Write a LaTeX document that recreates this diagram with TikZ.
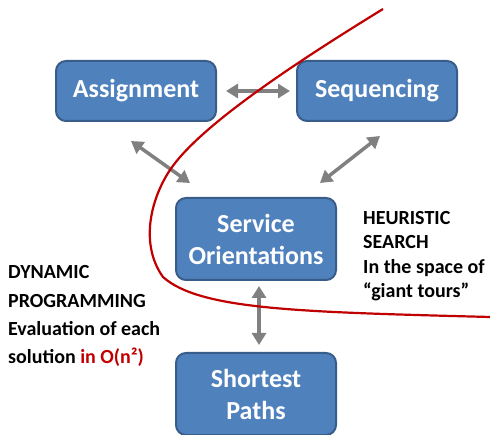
\documentclass[tikz,border=0pt]{standalone}
\usepackage{fontspec}
\setmainfont{Carlito}
\usetikzlibrary{arrows.meta}
\definecolor{boxblue}{HTML}{4F81BD}
\definecolor{boxedge}{HTML}{385D8A}
\definecolor{arrowgray}{HTML}{808080}
\definecolor{darkred}{HTML}{C00000}
\begin{document}
\begin{tikzpicture}[x=1pt,y=-1pt,
  blockbox/.style={draw=boxedge, line width=2pt, fill=boxblue, rounded corners=10pt,
    text=white, font=\fontsize{26}{32}\selectfont\bfseries, align=center,
    minimum width=160pt, inner sep=0pt},
  link/.style={draw=arrowgray, line width=3.5pt,
    {Triangle[width=14pt,length=12pt]}-{Triangle[width=14pt,length=12pt]}},
  notes/.style={font=\fontsize{20}{28.3}\selectfont\bfseries, align=left, anchor=north west, inner sep=0pt},
  boundary/.style={draw=darkred, line width=2.2pt}]
\useasboundingbox (0,0) rectangle (490,435);
% blocks
\node[blockbox, minimum height=60pt] (assign) at (136,91) {Assignment};
\node[blockbox, minimum height=60pt] (seq) at (377,91) {Sequencing};
\node[blockbox, minimum height=82pt] (serv) at (256,239) {Service\\Orientations};
\node[blockbox, minimum height=82pt] (short) at (256,394) {Shortest\\Paths};
% arrow ends
\coordinate (a1) at (226,91);
\coordinate (a2) at (290,91);
\coordinate (b1) at (131,141);
\coordinate (b2) at (190,183);
\coordinate (c1) at (380,136);
\coordinate (c2) at (320,183);
\coordinate (d1) at (259,286);
\coordinate (d2) at (259,345);
\draw[link] (a1) -- (a2);
\draw[link] (b1) -- (b2);
\draw[link] (c1) -- (c2);
\draw[link] (d1) -- (d2);
% boundary between the two methods
\draw[boundary] (383,9) .. controls (300,60) and (200,125) .. (170,170)
  .. controls (150,200) and (140,245) .. (163,277)
  .. controls (200,310) and (300,312) .. (490,317);
% labels
\node[notes] (dp) at (8,265.4) {DYNAMIC\\PROGRAMMING\\Evaluation of each\\solution \textcolor{darkred}{in O(n²)}};
\node[notes, font=\fontsize{20}{24.3}\selectfont\bfseries] (hs) at (363,211.1) {HEURISTIC\\SEARCH\\In the space of\\“giant tours”};
\end{tikzpicture}
\end{document}
